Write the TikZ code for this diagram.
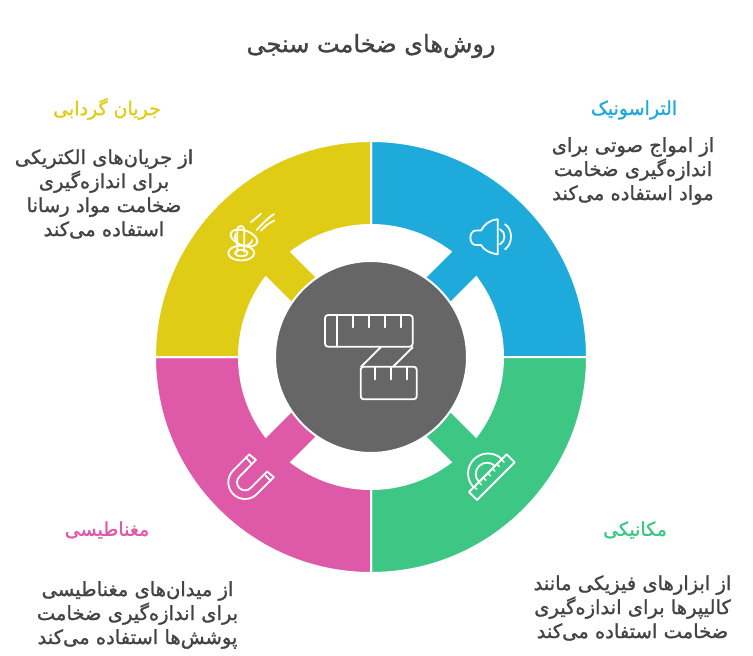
\documentclass[tikz,border=0pt]{standalone}
\usepackage{fontspec}
\usetikzlibrary{calc}
\newfontfamily\arabicfont[Script=Arabic,FakeBold=1.3]{DejaVu Sans}
\TeXXeTstate=1
\newcommand{\rtl}[1]{\beginR #1\endR}
\definecolor{segblue}{RGB}{30,171,219}
\definecolor{seggreen}{RGB}{62,198,132}
\definecolor{segpink}{RGB}{222,89,167}
\definecolor{segyellow}{RGB}{224,204,20}
\definecolor{hubgray}{RGB}{102,102,102}
\definecolor{txtgray}{RGB}{68,68,68}
\tikzset{
	segment/.style={draw=white,line width=2pt},
	icon/.style={draw=white,line width=1.8pt,line join=round,line cap=round},
	headtext/.style={font=\arabicfont\fontsize{19}{20}\selectfont,align=center},
	bodytext/.style={font=\arabicfont\fontsize{19.5}{24}\selectfont,align=center,text=txtgray},
}
\begin{document}
\begin{tikzpicture}[x=1pt,y=1pt,yscale=-1]
	\useasboundingbox (0,0) rectangle (753,656);
	% Settori
	\foreach \rot/\col in {0/segblue,90/seggreen,180/segpink,270/segyellow}{
		\begin{scope}[shift={(371,357)},rotate=\rot]
			\path [segment,fill=\col] (0,-216) arc[start angle=-90,end angle=0,radius=216] -- (132,0)
				arc[start angle=0,end angle=-37.15,radius=132] -- (60,-34.5) -- (34.5,-60) -- (-52.85:132)
				arc[start angle=-52.85,end angle=-90,radius=132] -- cycle;
		\end{scope}
	}
	% Centro
	\node [circle,fill=hubgray,draw=white,line width=2pt,minimum size=192pt,inner sep=0pt] (hub) at (371,357) {};
	% Metro
	\draw [icon,rounded corners=3pt] (325,315) rectangle (412.7,346.7);
	\draw [icon] (336.7,315) -- (336.7,346.7);
	\foreach \x in {352.7,368.7,384.7,401}
		\draw [icon] (\x,315) -- (\x,327.3);
	\draw [icon] (380.7,347.3) -- (361,366.7);
	\draw [icon] (412.7,347.3) -- (393,366.7);
	\draw [icon,rounded corners=3pt] (360.7,366.7) rectangle (416.7,399.3);
	\foreach \x in {374.7,390.7,406.7}
		\draw [icon] (\x,366.7) -- (\x,379.5);
	% Altoparlante
	\draw [icon] (497.7,219.3) -- (497.7,254.3) .. controls (489,253) and (484,250) .. (481,245) -- (476,245)
		.. controls (468.5,245) and (468.5,230.5) .. (476,230.5) -- (481,230.5)
		.. controls (484,225) and (489,220) .. (497.7,219.3);
	\draw [icon] (500,229.3) .. controls (506,232) and (506,241) .. (500,244.3);
	\draw [icon] (505,224.3) .. controls (513,229) and (513,244) .. (505,249.3);
	% Goniometro
	\draw [icon] (469,492) -- (477,500) -- (514.7,462.3) -- (506.7,454.3) -- cycle;
	\draw [icon] (473.9,487.6) arc[start angle=135,end angle=315,radius=20];
	\draw [icon] (479,482) arc[start angle=135,end angle=315,radius=11.3] -- cycle;
	\foreach \t in {0.14,0.26,0.38,0.5,0.62,0.74,0.86}
		\draw [icon,line width=1.4pt] ($(469,492)!\t!(506.7,454.3)$) -- ++(2.6,2.6);
	% Magnete
	\draw [icon] (249.3,454.4) -- (233.2,470.5) arc[start angle=225,end angle=45,radius=16.7] -- (273.8,477.1)
		-- (267.1,471.6) -- (250.7,488) arc[start angle=45,end angle=225,radius=8] -- (255.9,460) -- cycle;
	\draw [icon] (246,457.3) -- (251.7,464);
	\draw [icon] (265.7,475.7) -- (270.7,481);
	% Bobina
	\draw [icon] (241.3,253) ellipse (13 and 7.5);
	\draw [icon] (241.3,253) ellipse (6.5 and 3.2);
	\draw [icon] (237.3,252) -- (237.3,229.5) arc[start angle=180,end angle=360,radius=3.5] -- (244.3,252);
	\draw [icon,rotate around={20:(244,238)}] (244,238) ellipse (14 and 7.5);
	\draw [icon,rotate around={20:(244,237)}] (235,237) arc[start angle=180,end angle=0,radius=9];
	\draw [icon] (251,222.3) -- (261,213.7);
	\draw [icon] (256.7,230) .. controls (262,224) and (268,218) .. (274,214);
	\draw [icon] (261,230.7) .. controls (265,226) and (269,223) .. (274.3,220.7);
	% Testi
	\node [font=\arabicfont\fontsize{24}{24}\selectfont,text=txtgray] (title) at (371,46) {\rtl{روش‌های ضخامت سنجی}};
	\node [headtext,text=segblue] (blueHead) at (634,110) {\rtl{التراسونیک}};
	\node [bodytext] (blueBody) at (633,171) {\rtl{از امواج صوتی برای}\\\rtl{اندازه‌گیری ضخامت}\\\rtl{مواد استفاده می‌کند}};
	\node [headtext,text=seggreen] (greenHead) at (635,530) {\rtl{مکانیکی}};
	\node [bodytext] (greenBody) at (632.5,608) {\rtl{از ابزارهای فیزیکی مانند}\\\rtl{کالیپرها برای اندازه‌گیری}\\\rtl{ضخامت استفاده می‌کند}};
	\node [headtext,text=segpink] (pinkHead) at (107,530) {\rtl{مغناطیسی}};
	\node [bodytext] (pinkBody) at (137.5,615) {\rtl{از میدان‌های مغناطیسی}\\\rtl{برای اندازه‌گیری ضخامت}\\\rtl{پوشش‌ها استفاده می‌کند}};
	\node [headtext,text=segyellow] (yellowHead) at (107,109) {\rtl{جریان گردابی}};
	\node [bodytext] (yellowBody) at (104,194) {\rtl{از جریان‌های الکتریکی}\\\rtl{برای اندازه‌گیری}\\\rtl{ضخامت مواد رسانا}\\\rtl{استفاده می‌کند}};
\end{tikzpicture}
\end{document}
